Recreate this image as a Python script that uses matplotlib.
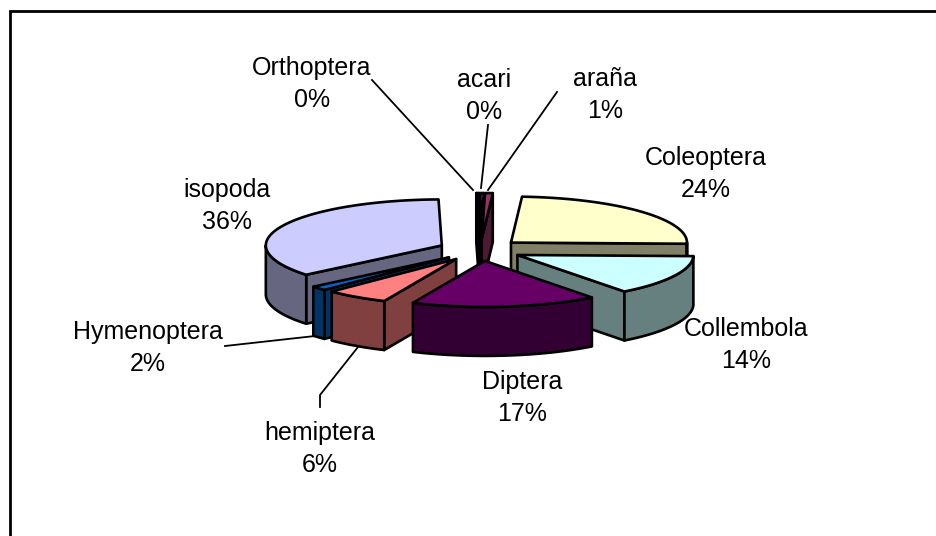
import numpy as np
import matplotlib
matplotlib.use("Agg")
import matplotlib.pyplot as plt

plt.rcParams['font.family'] = ['Liberation Sans', 'DejaVu Sans']

# clockwise from 12 o'clock
names = ['acari', 'araña', 'Coleoptera', 'Collembola', 'Diptera', 'hemiptera',
         'Hymenoptera', 'isopoda', 'Orthoptera']
values = [0.3, 0.7, 24.4, 14.2, 17.1, 5.8, 1.5, 35.7, 0.3]
colors = ['#9999FF', '#993366', '#FFFFCC', '#CCFFFF', '#660066', '#FF8080',
          '#0066CC', '#CCCCFF', '#000080']
label_x = [484, 605, 706, 746, 522, 320, 148, 227, 312]
label_y = [96, 95, 174, 345, 398, 449, 348, 206, 84]

cx, cy = 480, 250
rx, ry = 176, 46
explode = 42
depth = 49


def shade(c):
    return tuple(v * 0.5 for v in matplotlib.colors.to_rgb(c))


def rim(a0, a1, ox, oy):
    t = np.radians(np.linspace(a0, a1, 60))
    return ox + rx * np.sin(t), oy - ry * np.cos(t)


def draw_slice(ax, a0, a1, color):
    mid = np.radians((a0 + a1) / 2)
    ox = cx + explode * np.sin(mid)
    oy = cy - explode * np.cos(mid) * ry / rx
    side = shade(color)
    kw = dict(edgecolor='black', lw=1.9, joinstyle='round')
    # cut faces that point at the viewer
    for a, sgn in ((a0, -1), (a1, 1)):
        if sgn * np.sin(np.radians(a)) > 0:
            x, y = rim(a, a, ox, oy)
            px = [ox, x[0], x[0], ox]
            py = [oy, y[0], y[0] + depth, oy + depth]
            ax.fill(px, py, facecolor=side, **kw)
    # outer wall, front half only
    lo, hi = max(a0, 90), min(a1, 270)
    if lo < hi:
        x, y = rim(lo, hi, ox, oy)
        ax.fill(np.r_[x, x[::-1]], np.r_[y, y[::-1] + depth], facecolor=side, **kw)
    x, y = rim(a0, a1, ox, oy)
    ax.fill(np.r_[ox, x], np.r_[oy, y], facecolor=color, **kw)


fig = plt.figure(figsize=(9.37, 5.36), dpi=100)
ax = fig.add_axes([0, 0, 1, 1])
ax.set_xlim(0, 937)
ax.set_ylim(536, 0)
ax.axis('off')

# chart frame, cut off by the picture on the right and at the bottom
ax.plot([10.5, 10.5, 940], [540, 11, 11], color='black', lw=2, solid_joinstyle='miter')

edges = np.cumsum([0] + values) * 3.6
# back to front
for i in [8, 0, 1, 2, 7, 6, 5, 3, 4]:
    draw_slice(ax, edges[i], edges[i + 1], colors[i])

# leader lines
leaders = [([372, 473], [80, 190]),
           ([488, 481], [125, 188]),
           ([557, 488], [92, 190]),
           ([225, 315], [346, 336]),
           ([320, 320, 358], [407, 395, 347])]
for lx, ly in leaders:
    ax.plot(lx, ly, color='black', lw=1.3)

for n, v, x, y in zip(names, values, label_x, label_y):
    ax.text(x, y, f'{n}\n{round(v)}%', ha='center', va='center', fontsize=18,
            linespacing=1.42, color='black')

fig.savefig('out.png', dpi=100)
